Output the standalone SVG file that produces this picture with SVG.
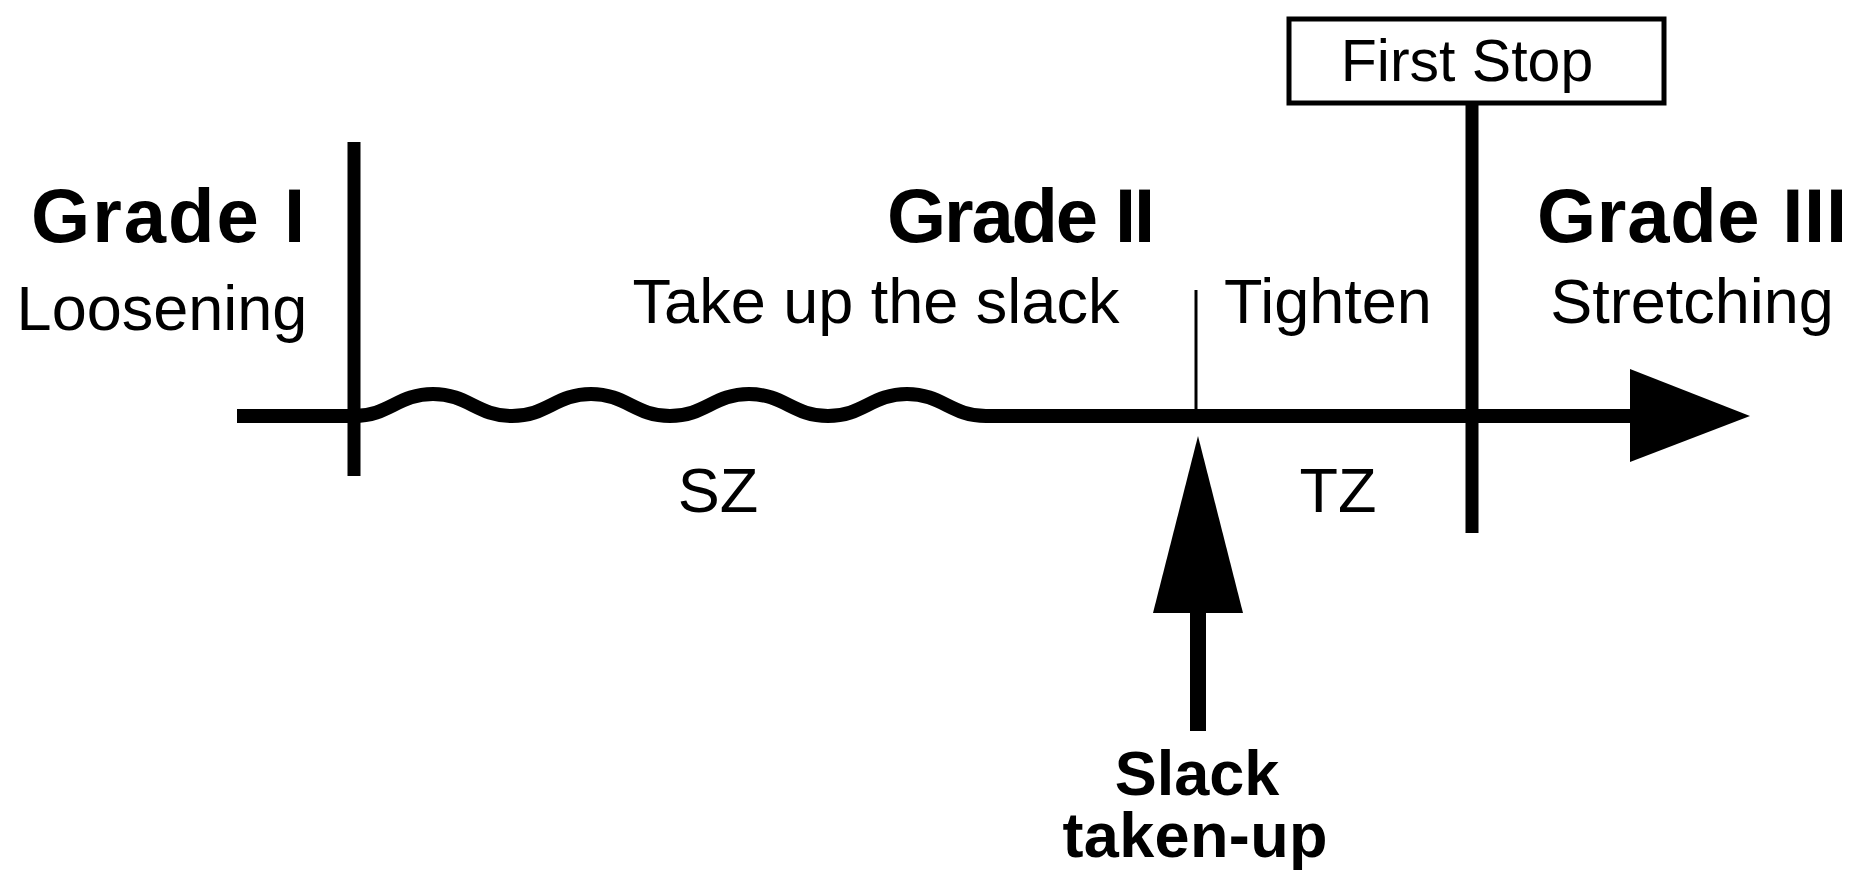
<svg xmlns="http://www.w3.org/2000/svg" width="1857" height="875" viewBox="0 0 1857 875">
<style>
text{font-family:"Liberation Sans",Arial,Helvetica,sans-serif;fill:#000;text-anchor:middle}
.b{font-weight:bold;font-size:76px}
.r{font-size:63px}
.s{font-weight:bold;font-size:63px}
.ln{stroke:#000;fill:none;stroke-linecap:butt}
</style>
<rect width="1857" height="875" fill="#fff"/>
<g id="connectors">
<path class="ln" stroke-width="14" d="M237 416 H354 C389 416 398 394 433 394 C468 394 477 416 512 416 C547 416 556 394 591 394 C626 394 635 416 670 416 C705 416 714 394 749 394 C784 394 793 416 828 416 C863 416 872 394 907 394 C942 394 951 416 986 416 H1634"/>
<polygon points="1630,369 1750,416 1630,462" fill="#000"/>
<line class="ln" x1="354" y1="142" x2="354" y2="476" stroke-width="13"/>
<line class="ln" x1="1472" y1="103" x2="1472" y2="533" stroke-width="13"/>
<line class="ln" x1="1196" y1="290" x2="1196" y2="416" stroke-width="3"/>
<polygon points="1198,436 1243,613 1153,613" fill="#000"/>
<rect x="1190" y="610" width="16" height="121" fill="#000"/>
</g>
<g id="grade1">
<text class="b" x="168" y="242" textLength="274">Grade I</text>
<text class="r" x="162" y="330">Loosening</text>
</g>
<g id="grade2">
<text class="b" x="1021" y="242" textLength="268">Grade II</text>
<text class="r" x="876" y="323">Take up the slack</text>
<text class="r" x="1328" y="323">Tighten</text>
</g>
<g id="grade3">
<text class="b" x="1692" y="242" textLength="310">Grade III</text>
<text class="r" x="1692" y="323">Stretching</text>
</g>
<g id="zones">
<text class="r" x="718" y="512">SZ</text>
<text class="r" x="1338" y="512">TZ</text>
</g>
<g id="first-stop">
<rect x="1289" y="19" width="375" height="84" fill="#fff" stroke="#000" stroke-width="5"/>
<text class="r" style="font-size:59px" x="1467" y="81">First Stop</text>
</g>
<g id="slack-taken-up">
<text class="s" x="1197" y="795">Slack</text>
<text class="s" x="1195" y="857" textLength="265">taken-up</text>
</g>
</svg>
